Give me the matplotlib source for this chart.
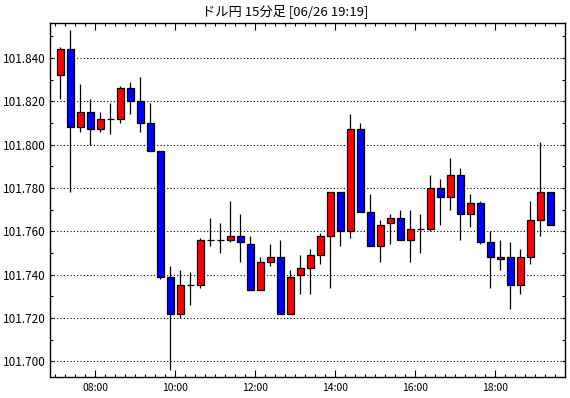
import matplotlib
matplotlib.use("Agg")
import matplotlib.pyplot as plt
import numpy as np
from matplotlib.ticker import MultipleLocator

plt.rcParams['font.family'] = ['Noto Sans CJK JP', 'DejaVu Sans']

# 15-minute candles starting 07:00 (hours, start of each bar)
start_hours = [7.0 + 0.25 * i for i in range(50)]

opens = [101.832, 101.844, 101.808, 101.815, 101.807, 101.812, 101.812, 101.826, 101.820, 101.810,
         101.797, 101.739, 101.722, 101.735, 101.735, 101.756, 101.756, 101.756, 101.758, 101.754,
         101.733, 101.746, 101.748, 101.722, 101.740, 101.743, 101.749, 101.758, 101.778, 101.760,
         101.807, 101.769, 101.753, 101.764, 101.766, 101.756, 101.761, 101.761, 101.780, 101.776,
         101.786, 101.768, 101.773, 101.755, 101.747, 101.748, 101.735, 101.748, 101.765, 101.778]
highs = [101.845, 101.853, 101.828, 101.821, 101.815, 101.819, 101.827, 101.829, 101.831, 101.819,
         101.797, 101.744, 101.742, 101.741, 101.757, 101.766, 101.764, 101.774, 101.768, 101.758,
         101.748, 101.754, 101.756, 101.742, 101.749, 101.752, 101.759, 101.778, 101.778, 101.814,
         101.810, 101.777, 101.765, 101.768, 101.770, 101.770, 101.768, 101.786, 101.784, 101.794,
         101.789, 101.777, 101.774, 101.760, 101.756, 101.755, 101.752, 101.774, 101.801, 101.778]
lows = [101.821, 101.778, 101.806, 101.800, 101.806, 101.805, 101.810, 101.814, 101.806, 101.797,
        101.738, 101.696, 101.720, 101.726, 101.734, 101.753, 101.750, 101.755, 101.746, 101.733,
        101.733, 101.744, 101.722, 101.722, 101.731, 101.731, 101.745, 101.734, 101.753, 101.757,
        101.769, 101.753, 101.746, 101.754, 101.756, 101.746, 101.750, 101.760, 101.763, 101.770,
        101.756, 101.762, 101.754, 101.734, 101.742, 101.724, 101.731, 101.745, 101.758, 101.763]
closes = [101.844, 101.808, 101.815, 101.807, 101.812, 101.812, 101.826, 101.820, 101.810, 101.797,
          101.739, 101.722, 101.735, 101.735, 101.756, 101.756, 101.756, 101.758, 101.755, 101.733,
          101.746, 101.748, 101.722, 101.739, 101.743, 101.749, 101.758, 101.778, 101.760, 101.807,
          101.769, 101.753, 101.763, 101.766, 101.756, 101.761, 101.761, 101.780, 101.776, 101.786,
          101.768, 101.773, 101.755, 101.748, 101.748, 101.735, 101.748, 101.765, 101.778, 101.763]

x_tick_hours = [8, 10, 12, 14, 16, 18]
x_tick_labels = ["08:00", "10:00", "12:00", "14:00", "16:00", "18:00"]
y_ticks = [101.700, 101.720, 101.740, 101.760, 101.780, 101.800, 101.820, 101.840]
title = "ドル円 15分足 [06/26 19:19]"

fig = plt.figure(figsize=(5.70, 3.98), dpi=100)
ax = fig.add_axes([50/570, 1 - 377/398, 515/570, (377 - 22.7)/398])

centers = np.array(start_hours) + 0.125
o = np.array(opens); h = np.array(highs); l = np.array(lows); c = np.array(closes)
lw = 0.9
width = 0.165

ax.vlines(centers, l, h, color='black', linewidth=lw, zorder=2)
for xi, oi, ci in zip(centers, o, c):
    if abs(ci - oi) < 1e-9:
        ax.hlines(oi, xi - width/2, xi + width/2, color='black', linewidth=lw, zorder=3)
    else:
        col = '#FF0000' if ci > oi else '#0000FF'
        ax.bar(xi, abs(ci - oi), bottom=min(oi, ci), width=width, color=col,
               edgecolor='black', linewidth=lw, zorder=3)

ax.set_xlim(6.869, 19.741)
ax.set_ylim(101.6928, 101.8562)

ax.set_yticks(y_ticks)
ax.set_yticklabels([f"{v:.3f}" for v in y_ticks])
ax.yaxis.set_minor_locator(MultipleLocator(0.010))
ax.set_xticks(x_tick_hours)
ax.set_xticklabels(x_tick_labels)
ax.xaxis.set_minor_locator(MultipleLocator(0.25))

ax.grid(axis='y', which='major', color='black', linestyle=(0, (1, 2)), linewidth=0.8, zorder=1)
ax.tick_params(axis='both', which='both', direction='in', top=True, right=True,
               colors='black', width=0.8)
ax.tick_params(axis='x', which='major', length=5, pad=4, labelsize=7.5)
ax.tick_params(axis='x', which='minor', length=2.5)
ax.tick_params(axis='y', which='both', length=2.5, pad=3, labelsize=8.5)
for s in ax.spines.values():
    s.set_linewidth(1.0)
    s.set_color('black')

fig.text(0.5, 1 - 11/398, title, ha='center', va='center', fontsize=9.5)

fig.savefig("out.png", dpi=100)
